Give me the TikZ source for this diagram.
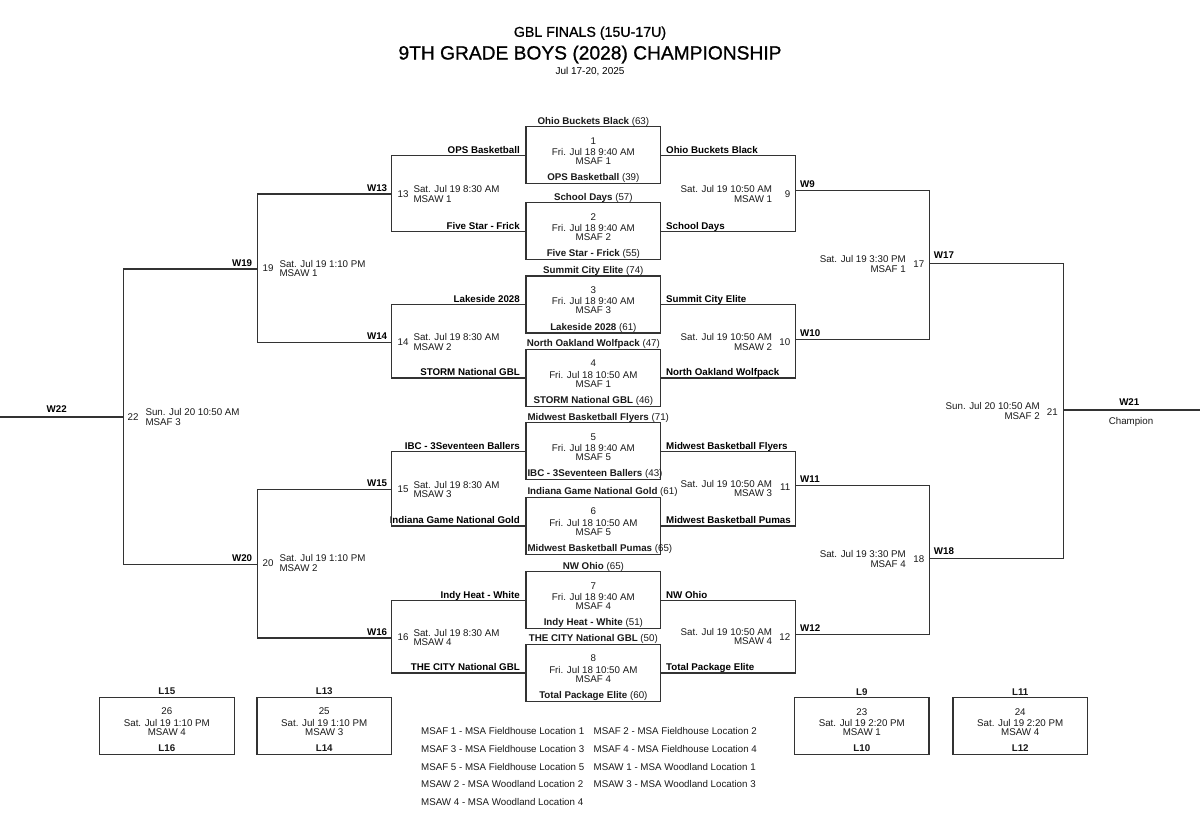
\documentclass[tikz,border=0pt]{standalone}
\usepackage{fontspec}
\setmainfont{Liberation Sans}
\newfontfamily\headfont[FakeBold=0.9]{Liberation Sans}
\usetikzlibrary{calc}
\definecolor{linec}{HTML}{333333}
\definecolor{txtc}{HTML}{1A1A1A}
\newcommand\fs{\fontsize{9.75}{9.7}\selectfont}
\newcommand\lb[1]{\makebox[134.7pt][l]{\hspace{1.5pt}#1}}
\newcommand\tm[2]{{\bfseries #1} (#2)}
\tikzset{
  txt/.style={font=\fs, inner sep=0pt, text=txtc},
  tb/.style={font=\fs\bfseries, inner sep=0pt, text=black},
  gbox/.style={draw=linec, line width=1.4pt, minimum width=134.7pt, minimum height=57pt, inner sep=0pt},
  ln/.style={draw=linec, line width=1.4pt},
}
% name, top y, top label, number, date, venue, bottom label, centre x
\newcommand\gamebox[8]{%
  \node[gbox] (#1) at (#8,#2+28.5) {};
  \node[txt,anchor=base] (#1t) at (#8,#2-2.7) {#3};
  \node[txt,anchor=base] (#1n) at (#8,#2+17.5) {#4};
  \node[txt,anchor=base] (#1d) at (#8,#2+28.8) {#5};
  \node[txt,anchor=base] (#1v) at (#8,#2+37.8) {#6};
  \node[txt,anchor=base] (#1b) at (#8,#2+54.1) {#7};
}
\begin{document}
\begin{tikzpicture}[x=1pt,y=-1pt]
\fill[white] (0,0) rectangle (1200,825);
\useasboundingbox (0,0) rectangle (1200,825);

% titles
\node[inner sep=0pt, anchor=base, font=\headfont\fontsize{14.2}{16}\selectfont] (t1) at (590,36.8) {GBL FINALS (15U-17U)};
\node[inner sep=0pt, anchor=base, font=\headfont\fontsize{19.2}{21}\selectfont] (t2) at (590,59.5) {9TH GRADE BOYS (2028) CHAMPIONSHIP};
\node[inner sep=0pt, anchor=base, font=\fontsize{10}{12}\selectfont] (t3) at (590,74.6) {Jul 17-20, 2025};

% first-round boxes
\gamebox{m1}{126.7}{\tm{Ohio Buckets Black}{63}}{1}{Fri. Jul 18 9:40 AM}{MSAF 1}{\tm{OPS Basketball}{39}}{593.35}
\gamebox{m2}{202.7}{\tm{School Days}{57}}{2}{Fri. Jul 18 9:40 AM}{MSAF 2}{\tm{Five Star - Frick}{55}}{593.35}
\gamebox{m3}{276}{\tm{Summit City Elite}{74}}{3}{Fri. Jul 18 9:40 AM}{MSAF 3}{\tm{Lakeside 2028}{61}}{593.35}
\gamebox{m4}{349.3}{\tm{North Oakland Wolfpack}{47}}{4}{Fri. Jul 18 10:50 AM}{MSAF 1}{\tm{STORM National GBL}{46}}{593.35}
\gamebox{m5}{422.7}{\lb{\tm{Midwest Basketball Flyers}{71}}}{5}{Fri. Jul 18 9:40 AM}{MSAF 5}{\lb{\tm{IBC - 3Seventeen Ballers}{43}}}{593.35}
\gamebox{m6}{497.3}{\lb{\tm{Indiana Game National Gold}{61}}}{6}{Fri. Jul 18 10:50 AM}{MSAF 5}{\lb{\tm{Midwest Basketball Pumas}{65}}}{593.35}
\gamebox{m7}{571.7}{\tm{NW Ohio}{65}}{7}{Fri. Jul 18 9:40 AM}{MSAF 4}{\tm{Indy Heat - White}{51}}{593.35}
\gamebox{m8}{644.3}{\tm{THE CITY National GBL}{50}}{8}{Fri. Jul 18 10:50 AM}{MSAF 4}{\tm{Total Package Elite}{60}}{593.35}

% team names on the lines
\node[tb,anchor=base east] (n1l) at (520,153.2) {OPS Basketball};
\node[tb,anchor=base east] (n2l) at (520,229.2) {Five Star - Frick};
\node[tb,anchor=base east] (n3l) at (520,302.5) {Lakeside 2028};
\node[tb,anchor=base east] (n4l) at (520,375.8) {STORM National GBL};
\node[tb,anchor=base east] (n5l) at (520,449.2) {IBC - 3Seventeen Ballers};
\node[tb,anchor=base east] (n6l) at (520,523.8) {Indiana Game National Gold};
\node[tb,anchor=base east] (n7l) at (520,598.2) {Indy Heat - White};
\node[tb,anchor=base east] (n8l) at (520,670.8) {THE CITY National GBL};
\node[tb,anchor=base west] (n1r) at (666,153.2) {Ohio Buckets Black};
\node[tb,anchor=base west] (n2r) at (666,229.2) {School Days};
\node[tb,anchor=base west] (n3r) at (666,302.5) {Summit City Elite};
\node[tb,anchor=base west] (n4r) at (666,375.8) {North Oakland Wolfpack};
\node[tb,anchor=base west] (n5r) at (666,449.2) {Midwest Basketball Flyers};
\node[tb,anchor=base west] (n6r) at (666,523.8) {Midwest Basketball Pumas};
\node[tb,anchor=base west] (n7r) at (666,598.2) {NW Ohio};
\node[tb,anchor=base west] (n8r) at (666,670.8) {Total Package Elite};

% bracket coordinates
\coordinate (L13) at (391.7,194);
\coordinate (L14) at (391.7,342.5);
\coordinate (L15) at (391.7,489.3);
\coordinate (L16) at (391.7,638);
\coordinate (L19) at (257.3,269);
\coordinate (L20) at (257.3,564.5);
\coordinate (L22) at (123.7,417);
\coordinate (E22) at (0,417);
\coordinate (R9) at (795.7,190.3);
\coordinate (R10) at (795.7,339.3);
\coordinate (R11) at (795.7,485.3);
\coordinate (R12) at (795.7,634.3);
\coordinate (R17) at (929.7,263.7);
\coordinate (R18) at (929.7,558.7);
\coordinate (R21) at (1063.7,410);
\coordinate (E21) at (1200,410);

% left side
\draw[ln] (m1.west) -| (L13) |- (m2.west);
\draw[ln] (m3.west) -| (L14) |- (m4.west);
\draw[ln] (m5.west) -| (L15) |- (m6.west);
\draw[ln] (m7.west) -| (L16) |- (m8.west);
\draw[ln] (L13) -| (L19) |- (L14);
\draw[ln] (L15) -| (L20) |- (L16);
\draw[ln] (L19) -| (L22) |- (L20);
\draw[ln] (L22) -- (E22);
% right side
\draw[ln] (m1.east) -| (R9) |- (m2.east);
\draw[ln] (m3.east) -| (R10) |- (m4.east);
\draw[ln] (m5.east) -| (R11) |- (m6.east);
\draw[ln] (m7.east) -| (R12) |- (m8.east);
\draw[ln] (R9) -| (R17) |- (R10);
\draw[ln] (R11) -| (R18) |- (R12);
\draw[ln] (R17) -| (R21) |- (R18);
\draw[ln] (R21) -- (E21);

% left round-2 labels
\node[tb,anchor=base east] (w13) at (387.3,191.2) {W13};
\node[tb,anchor=base east] (w14) at (387.3,339.7) {W14};
\node[tb,anchor=base east] (w15) at (387.3,486.5) {W15};
\node[tb,anchor=base east] (w16) at (387.3,635.2) {W16};
\node[txt,anchor=west] (g13) at (397.5,194.3) {13};
\node[txt,anchor=west] (g14) at (397.5,342.3) {14};
\node[txt,anchor=west] (g15) at (397.5,489.5) {15};
\node[txt,anchor=west] (g16) at (397.5,637.5) {16};
\node[txt,anchor=west,align=left] (d13) at (413.3,194.2) {Sat. Jul 19 8:30 AM\\MSAW 1};
\node[txt,anchor=west,align=left] (d14) at (413.3,342.2) {Sat. Jul 19 8:30 AM\\MSAW 2};
\node[txt,anchor=west,align=left] (d15) at (413.3,489.4) {Sat. Jul 19 8:30 AM\\MSAW 3};
\node[txt,anchor=west,align=left] (d16) at (413.3,637.4) {Sat. Jul 19 8:30 AM\\MSAW 4};
% left round-3 labels
\node[tb,anchor=base east] (w19) at (252.3,266.2) {W19};
\node[tb,anchor=base east] (w20) at (252.3,561.2) {W20};
\node[txt,anchor=west] (g19) at (262.5,267.7) {19};
\node[txt,anchor=west] (g20) at (262.5,562.7) {20};
\node[txt,anchor=west,align=left] (d19) at (279.3,268.5) {Sat. Jul 19 1:10 PM\\MSAW 1};
\node[txt,anchor=west,align=left] (d20) at (279.3,563.2) {Sat. Jul 19 1:10 PM\\MSAW 2};
% left final labels
\node[tb,anchor=base] (w22) at (56.7,412.2) {W22};
\node[txt,anchor=west] (g22) at (127.5,416.7) {22};
\node[txt,anchor=west,align=left] (d22) at (145.3,417.2) {Sun. Jul 20 10:50 AM\\MSAF 3};

% right round-2 labels
\node[tb,anchor=base west] (w9) at (800,187.5) {W9};
\node[tb,anchor=base west] (w10) at (800,336.2) {W10};
\node[tb,anchor=base west] (w11) at (800,482.5) {W11};
\node[tb,anchor=base west] (w12) at (800,631.5) {W12};
\node[txt,anchor=east] (g9) at (790.5,194.3) {9};
\node[txt,anchor=east] (g10) at (790.5,342.3) {10};
\node[txt,anchor=east] (g11) at (790.5,487.5) {11};
\node[txt,anchor=east] (g12) at (790.5,636.7) {12};
\node[txt,anchor=east,align=right] (d9) at (772.3,194.2) {Sat. Jul 19 10:50 AM\\MSAW 1};
\node[txt,anchor=east,align=right] (d10) at (772.3,342.2) {Sat. Jul 19 10:50 AM\\MSAW 2};
\node[txt,anchor=east,align=right] (d11) at (772.3,488.4) {Sat. Jul 19 10:50 AM\\MSAW 3};
\node[txt,anchor=east,align=right] (d12) at (772.3,636.4) {Sat. Jul 19 10:50 AM\\MSAW 4};
% right round-3 labels
\node[tb,anchor=base west] (w17) at (933.7,258.5) {W17};
\node[tb,anchor=base west] (w18) at (933.7,554.5) {W18};
\node[txt,anchor=east] (g17) at (924.5,263.7) {17};
\node[txt,anchor=east] (g18) at (924.5,558.7) {18};
\node[txt,anchor=east,align=right] (d17) at (906,264.1) {Sat. Jul 19 3:30 PM\\MSAF 1};
\node[txt,anchor=east,align=right] (d18) at (906,559.3) {Sat. Jul 19 3:30 PM\\MSAF 4};
% right final labels
\node[tb,anchor=base] (w21) at (1129.3,405.2) {W21};
\node[txt,anchor=base] (champ) at (1131,424.5) {Champion};
\node[txt,anchor=east] (g21) at (1058,411.7) {21};
\node[txt,anchor=east,align=right] (d21) at (1040,411.2) {Sun. Jul 20 10:50 AM\\MSAF 2};

% consolation boxes
\gamebox{c26}{697.3}{{\bfseries L15}}{26}{Sat. Jul 19 1:10 PM}{MSAW 4}{{\bfseries L16}}{166.85}
\gamebox{c25}{697.3}{{\bfseries L13}}{25}{Sat. Jul 19 1:10 PM}{MSAW 3}{{\bfseries L14}}{324.2}
\gamebox{c23}{697.7}{{\bfseries L9}}{23}{Sat. Jul 19 2:20 PM}{MSAW 1}{{\bfseries L10}}{861.8}
\gamebox{c24}{697.7}{{\bfseries L11}}{24}{Sat. Jul 19 2:20 PM}{MSAW 4}{{\bfseries L12}}{1020.2}

% legend
\node[txt,anchor=base west] (k1) at (421,734.5) {MSAF 1 - MSA Fieldhouse Location 1};
\node[txt,anchor=base west] (k2) at (593.5,734.5) {MSAF 2 - MSA Fieldhouse Location 2};
\node[txt,anchor=base west] (k3) at (421,752.3) {MSAF 3 - MSA Fieldhouse Location 3};
\node[txt,anchor=base west] (k4) at (593.5,752.3) {MSAF 4 - MSA Fieldhouse Location 4};
\node[txt,anchor=base west] (k5) at (421,770.1) {MSAF 5 - MSA Fieldhouse Location 5};
\node[txt,anchor=base west] (k6) at (593.5,770.1) {MSAW 1 - MSA Woodland Location 1};
\node[txt,anchor=base west] (k7) at (421,787.9) {MSAW 2 - MSA Woodland Location 2};
\node[txt,anchor=base west] (k8) at (593.5,787.9) {MSAW 3 - MSA Woodland Location 3};
\node[txt,anchor=base west] (k9) at (421,805.7) {MSAW 4 - MSA Woodland Location 4};
\end{tikzpicture}
\end{document}
